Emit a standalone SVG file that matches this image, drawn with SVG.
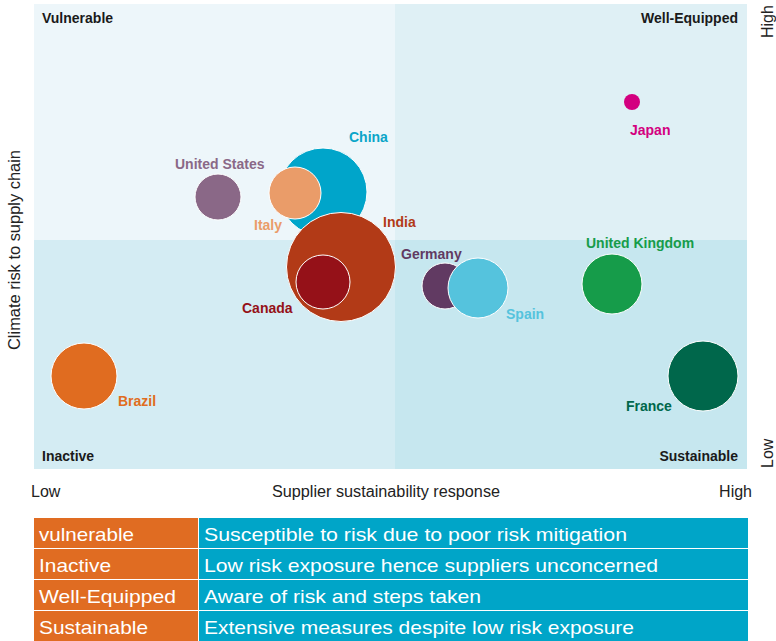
<svg xmlns="http://www.w3.org/2000/svg" width="776" height="641" viewBox="0 0 776 641">
<style>
.q{font-family:"Liberation Sans",Arial,sans-serif;font-size:14px;font-weight:bold;fill:#1a1a1a}
.c{font-family:"Liberation Sans",Arial,sans-serif;font-size:14px;font-weight:bold}
.ax{font-family:"Liberation Sans",Arial,sans-serif;font-size:16px;fill:#222}
.t{font-family:"Liberation Sans",Arial,sans-serif;font-size:19px;fill:#fff}
.b{stroke:#fff;stroke-width:1}
</style>
<rect width="776" height="641" fill="#fff"/>
<g id="quadrants">
<rect x="34" y="4" width="361" height="236" fill="#EDF6FA"/>
<rect x="395" y="4" width="352" height="236" fill="#DFF0F5"/>
<rect x="34" y="240" width="361" height="229" fill="#D4ECF3"/>
<rect x="395" y="240" width="352" height="229" fill="#C6E7EF"/>
<text class="q" x="42" y="23">Vulnerable</text>
<text class="q" x="738" y="23" text-anchor="end">Well-Equipped</text>
<text class="q" x="42" y="461">Inactive</text>
<text class="q" x="738" y="461" text-anchor="end">Sustainable</text>
</g>
<g id="axes">
<text class="ax" transform="translate(20,250) rotate(-90)" text-anchor="middle" textLength="200" lengthAdjust="spacingAndGlyphs">Climate risk to supply chain</text>
<text class="ax" transform="translate(773,38) rotate(-90)">High</text>
<text class="ax" transform="translate(773,468) rotate(-90)">Low</text>
<text class="ax" x="31" y="497">Low</text>
<text class="ax" x="272" y="497" textLength="228" lengthAdjust="spacingAndGlyphs">Supplier sustainability response</text>
<text class="ax" x="752" y="497" text-anchor="end">High</text>
</g>
<g id="china"><circle class="b" cx="323" cy="192" r="44" fill="#00A5CA"/><text class="c" x="349" y="142" fill="#0AA5C8">China</text></g>
<g id="us"><circle class="b" cx="218" cy="197" r="23" fill="#8A6887"/><text class="c" x="175" y="169" fill="#8A6887">United States</text></g>
<g id="italy"><circle class="b" cx="295" cy="193" r="26" fill="#EA9C69"/><text class="c" x="254" y="230" fill="#EA9C69">Italy</text></g>
<g id="india"><circle class="b" cx="341" cy="267" r="54.5" fill="#B23A17"/><text class="c" x="383" y="227" fill="#B23A17">India</text></g>
<g id="canada"><circle class="b" cx="323" cy="282" r="27" fill="#951118"/><text class="c" x="242" y="313" fill="#951118">Canada</text></g>
<g id="brazil"><circle class="b" cx="84" cy="376" r="33" fill="#E06C20"/><text class="c" x="118" y="406" fill="#E06C20">Brazil</text></g>
<g id="germany"><circle class="b" cx="445" cy="286" r="23" fill="#613A62"/><text class="c" x="401" y="259" fill="#613A62">Germany</text></g>
<g id="spain"><circle class="b" cx="478" cy="288" r="30" fill="#55C3DD"/><text class="c" x="506" y="319" fill="#55C3DD">Spain</text></g>
<g id="uk"><circle class="b" cx="612" cy="284" r="30" fill="#169C4A"/><text class="c" x="586" y="248" fill="#169C4A">United Kingdom</text></g>
<g id="france"><circle class="b" cx="703" cy="376" r="35" fill="#00674B"/><text class="c" x="626" y="411" fill="#00674B">France</text></g>
<g id="japan"><circle cx="632" cy="102" r="8" fill="#D3007F"/><text class="c" x="630" y="135" fill="#D3007F">Japan</text></g>
<g id="connectors"></g>
<g id="legend">
<g fill="#E06C22">
<rect x="34" y="518" width="164" height="30"/>
<rect x="34" y="549" width="164" height="30"/>
<rect x="34" y="580" width="164" height="30"/>
<rect x="34" y="611" width="164" height="30"/>
</g>
<g fill="#00A5C8">
<rect x="199" y="518" width="549" height="30"/>
<rect x="199" y="549" width="549" height="30"/>
<rect x="199" y="580" width="549" height="30"/>
<rect x="199" y="611" width="549" height="30"/>
</g>
<text class="t" x="39" y="541" textLength="95" lengthAdjust="spacingAndGlyphs">vulnerable</text>
<text class="t" x="39" y="572" textLength="72" lengthAdjust="spacingAndGlyphs">Inactive</text>
<text class="t" x="39" y="603" textLength="137" lengthAdjust="spacingAndGlyphs">Well-Equipped</text>
<text class="t" x="39" y="634" textLength="109" lengthAdjust="spacingAndGlyphs">Sustainable</text>
<text class="t" x="204" y="541" textLength="423" lengthAdjust="spacingAndGlyphs">Susceptible to risk due to poor risk mitigation</text>
<text class="t" x="204" y="572" textLength="454" lengthAdjust="spacingAndGlyphs">Low risk exposure hence suppliers unconcerned</text>
<text class="t" x="204" y="603" textLength="277" lengthAdjust="spacingAndGlyphs">Aware of risk and steps taken</text>
<text class="t" x="204" y="634" textLength="430" lengthAdjust="spacingAndGlyphs">Extensive measures despite low risk exposure</text>
</g>
</svg>
